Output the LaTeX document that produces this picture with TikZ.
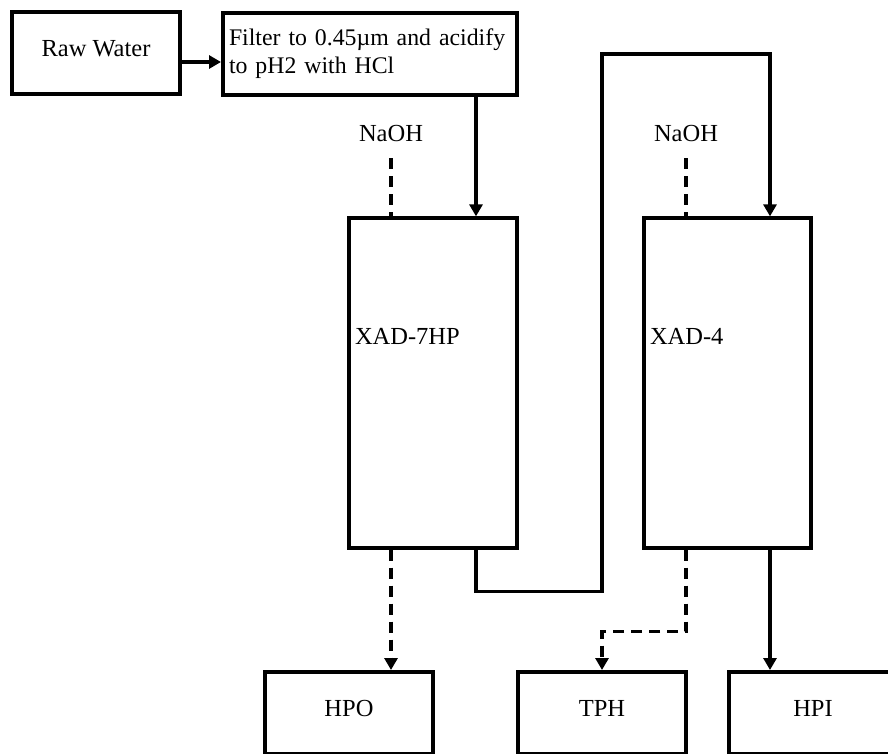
\documentclass[tikz,border=0pt]{standalone}
\usepackage{fontspec}
\setmainfont{Liberation Serif}
\usepackage{tikz}
\usetikzlibrary{arrows.meta}

\tikzset{
  box/.style={draw, line width=4pt, minimum width=168pt, minimum height=82pt, inner sep=0pt, text height=44pt, text depth=38pt},
  column/.style={draw, line width=3.3pt, minimum width=168pt, minimum height=330pt, inner xsep=6pt, inner ysep=0pt, align=left, text width=156pt, text height=126pt, text depth=204pt},
  flow/.style={line width=3.3pt, -{Triangle[width=13pt,length=12pt]}},
  flowdash/.style={flow, dash pattern=on 11pt off 7pt}
}

\begin{document}
\begin{tikzpicture}[
      x=1pt, y=-1pt,
      font=\fontsize{24.5pt}{28pt}\selectfont
    ]
      \useasboundingbox (0,0) rectangle (888,753);

      \node[box] (raw) at (96,53) {Raw Water};
      \node[box, text height=, text depth=, align=left, text width=282pt, inner xsep=6pt, minimum width=294pt,
            font=\fontsize{23.8pt}{28pt}\selectfont] (filter) at (370,54) {\mbox{Filter to 0.45µm and acidify}\\to pH2 with HCl};

      \node[column] (xad7) at (433,383) {XAD-7HP};
      \node[column, minimum width=167pt, text width=155pt] (xad4) at (727.5,383) {XAD-4};

      \node (naoh1) at (391,134) {NaOH};
      \node (naoh2) at (686,134) {NaOH};

      \node[box] (hpo) at (349,713) {HPO};
      \node[box] (tph) at (602,713) {TPH};
      \node[box] (hpi) at (813,713) {HPI};

      \coordinate (in7) at ([xshift=43pt]xad7.north);
      \coordinate (in4) at ([xshift=42.5pt]xad4.north);
      \coordinate (turn) at (602,54);

      \draw[flow] ([yshift=-9pt]raw.east) -- ([yshift=-9pt]raw.east -| filter.west);
      \draw[flow] (filter.south -| in7) -- (in7);
      \draw[flow] ([xshift=43pt]xad7.south) -- ++(0,42) -| (turn) -| (in4);

      % NaOH feeds
      \draw[flowdash, -] ([yshift=-24pt]naoh1.center) -- (naoh1 |- xad7.north);
      \draw[flowdash, -] ([yshift=-24pt]naoh2.center) -- (naoh2 |- xad4.north);

      % eluates
      \draw[flowdash] (naoh1 |- xad7.south) -- (naoh1 |- hpo.north);
      \draw[flowdash] (naoh2 |- xad4.south) -- ++(0,82) -| (tph.north);
      \draw[flow] ([xshift=42.5pt]xad4.south) -- ([xshift=-43pt]hpi.north);
    \end{tikzpicture}
\end{document}
